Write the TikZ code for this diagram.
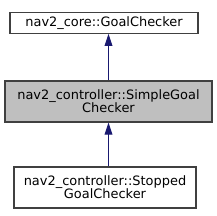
\documentclass[tikz,border=0pt]{standalone}
\usepackage{fontspec}
\setmainfont{DejaVu Sans}
\usepackage{xcolor}
\usetikzlibrary{arrows.meta}
\definecolor{gray25}{HTML}{404040}
\definecolor{gray75}{HTML}{BFBFBF}
\definecolor{midblue}{HTML}{191970}

\begin{document}
\begin{tikzpicture}[x=0.75pt,y=-0.75pt,
  cls/.style={draw=gray25,line width=0.9pt,fill=white,inner sep=0pt,align=center,
    font=\fontsize{9.7}{10}\selectfont},
  inh/.style={draw=midblue,line width=0.75pt,-{Triangle[length=9pt,width=5.8pt]}}]
\useasboundingbox (0,0) rectangle (217,216);
\node[cls,minimum width=141pt,minimum height=15.5pt] (base) at (104,23) {nav2\_core::GoalChecker};
\node[cls,fill=gray75,minimum width=155.25pt,minimum height=30.75pt] (simple) at (108.5,101.5) {nav2\_controller::SimpleGoal\\Checker};
\node[cls,minimum width=136.5pt,minimum height=30.75pt] (stopped) at (105,187.5) {nav2\_controller::Stopped\\GoalChecker};
\draw[inh] (simple.north) -- (simple.north |- base.south);
\draw[inh] (stopped.north -| simple.north) -- (simple.south);
\end{tikzpicture}
\end{document}
